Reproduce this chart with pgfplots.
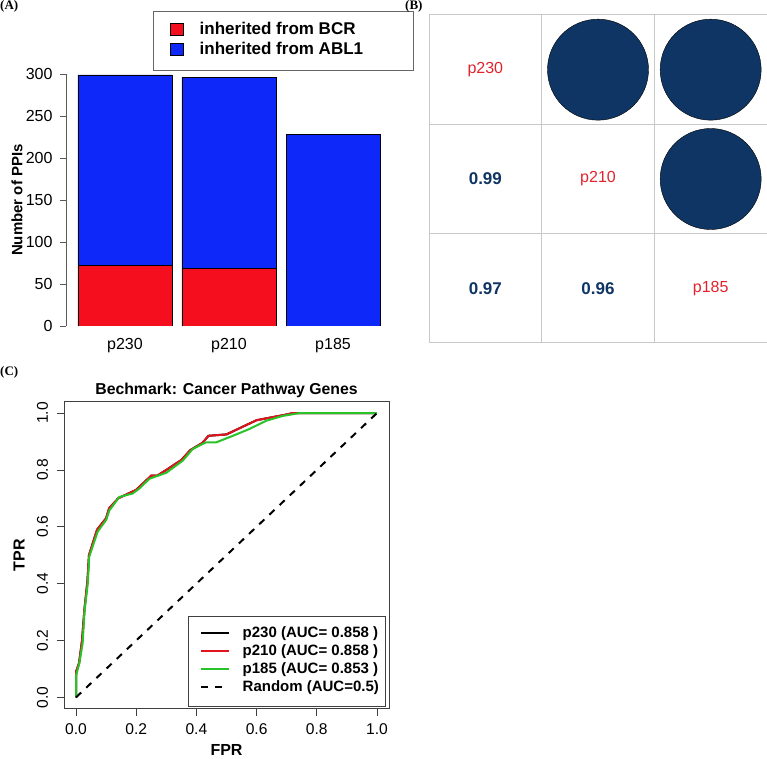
\documentclass[border=0pt]{standalone}
\usepackage{pgfplots}
\pgfplotsset{compat=1.18}
\usepackage{fontspec}
\setmainfont{Liberation Sans}
\newfontfamily\tnr{Liberation Serif}
\newcommand{\fs}[1]{\fontsize{#1}{#1}\selectfont}

\definecolor{barred}{RGB}{245,15,30}
\definecolor{barblue}{RGB}{15,40,250}
\definecolor{navy}{RGB}{15,53,100}
\definecolor{labred}{RGB}{225,35,45}
\definecolor{gridgray}{RGB}{200,200,200}
\definecolor{rocgreen}{RGB}{40,195,40}
\definecolor{rocred}{RGB}{225,20,30}

\pgfplotsset{
  sqlegend/.style={legend image code/.code={
    \draw[##1,draw=black,line width=0.6pt] (0pt,0pt) rectangle (13.3pt,11.5pt);
    \path[draw=none,fill=none] (29.6pt,0pt);}},
  lnlegend/.style={legend image code/.code={
    \path[draw=none,fill=none] (0pt,0pt) (6.7pt,0pt);
    \draw[##1] (6.7pt,5.3pt) -- (34.7pt,5.3pt);
    \path[draw=none,fill=none] (48pt,0pt);}},
}

\begin{document}
\begin{tikzpicture}[x=1pt,y=1pt]
\useasboundingbox (0,0) rectangle (767,758);

% ---- (A) stacked bars
\begin{axis}[
  at={(66pt,432pt)}, anchor=south west, scale only axis,
  width=326pt, height=252pt,
  xmin=0.433, xmax=3.567, ymin=0, ymax=300, enlargelimits=false,
  ybar stacked, bar width=0.904,
  axis lines*=left,
  x axis line style={draw=none},
  y axis line style={-, draw=black!65, line width=0.8pt},
  xtick={1,2,3}, xticklabels={p230,p210,p185},
  xtick style={draw=none},
  ytick={0,50,100,150,200,250,300},
  ytick style={draw=black!65, line width=0.8pt},
  tick align=outside, major tick length=6pt,
  tick label style={font=\fs{16}},
  /pgf/number format/assume math mode=true,
  yticklabel style={anchor=east, inner sep=0pt},
  xticklabel style={anchor=north, inner sep=0pt},
  yticklabel shift=7.3pt, xticklabel shift=5.7pt,
  ylabel={Number of PPIs},
  ylabel style={at={(-0.150,0.5)}, anchor=center, font=\bfseries\fs{15}},
  legend style={at={(0.267,1.25)}, anchor=north west,
    draw=black!60, line width=1pt, inner xsep=16.3pt, inner ysep=11.5pt,
    font=\bfseries\fs{17}, cells={anchor=base west},
    nodes={inner sep=0pt, text height=12pt, text depth=4pt},
    row sep=4pt},
]
\addplot[fill=barred, draw=black, line width=0.6pt, sqlegend] coordinates {(1,72) (2,69) (3,0)};
\addlegendentry{\makebox[197pt][l]{inherited from BCR}}
\addplot[fill=barblue, draw=black, line width=0.6pt, sqlegend] coordinates {(1,227) (2,227) (3,228)};
\addlegendentry{\makebox[197pt][l]{inherited from ABL1}}
\end{axis}

% ---- (B) correlation matrix
\begin{axis}[
  at={(429pt,415pt)}, anchor=south west, scale only axis,
  width=338pt, height=328pt,
  xmin=0.5, xmax=3.5, ymin=0.5, ymax=3.5,
  xtick={1.5,2.5}, ytick={1.5,2.5}, xticklabels={}, yticklabels={},
  tick style={draw=none}, grid=major,
  major grid style={draw=gridgray, line width=1pt},
  axis line style={draw=gridgray, line width=1pt},
  clip=false,
]
\addplot[only marks, mark=*, mark size=50.5pt, mark options={fill=navy, draw=none}]
  coordinates {(2,3) (3,3) (3,2)};
\addplot[only marks, mark=*, mark size=0pt, mark options={draw=none, fill=none},
  nodes near coords, point meta=explicit symbolic,
  nodes near coords style={anchor=center, text=labred, font=\fs{16}}]
  table[meta=t] {
x y t
1 3 p230
2 2 p210
3 1 p185
};
\addplot[only marks, mark=*, mark size=0pt, mark options={draw=none, fill=none},
  nodes near coords, point meta=explicit symbolic,
  nodes near coords style={anchor=center, text=navy, font=\bfseries\fs{17}}]
  table[meta=t] {
x y t
1 2 0.99
1 1 0.97
2 1 0.96
};
\end{axis}

% ---- (C) ROC curves
\begin{axis}[
  at={(64pt,49.3pt)}, anchor=south west, scale only axis,
  width=325pt, height=307pt,
  xmin=-0.04, xmax=1.04, ymin=-0.04, ymax=1.04, enlargelimits=false,
  axis line style={draw=black!75, line width=0.8pt},
  tick style={draw=black!75, line width=0.8pt},
  tick align=outside, major tick length=7pt,
  xtick={0,0.2,0.4,0.6,0.8,1}, ytick={0,0.2,0.4,0.6,0.8,1},
  xtick pos=bottom, ytick pos=left,
  tick label style={font=\fs{15.6}},
  /pgf/number format/.cd, fixed, fixed zerofill, precision=1, assume math mode=true,
  /pgfplots/.cd,
  xticklabel style={anchor=north, inner sep=0pt},
  yticklabel style={rotate=90, anchor=south, inner sep=0pt},
  xticklabel shift=7.6pt, yticklabel shift=8.7pt,
  title={Bechmark: Cancer Pathway Genes},
  title style={at={(0.5,1)}, anchor=center, yshift=5.3pt, inner sep=0pt, font=\bfseries\fs{15.8}},
  xlabel={FPR}, ylabel={TPR},
  xlabel style={at={(0.5,-0.134)}, anchor=center, font=\bfseries\fs{16}},
  ylabel style={at={(-0.138,0.5)}, anchor=center, font=\bfseries\fs{16}},
  legend style={at={(0.991,0.0065)}, anchor=south east,
    draw=black!75, line width=0.8pt, inner xsep=6pt, inner ysep=10.5pt,
    font=\bfseries\fs{15}, cells={anchor=base west},
    nodes={inner sep=0pt, text height=11pt, text depth=4pt},
    row sep=3pt},
]
\addplot[black, line width=2pt, lnlegend] coordinates {
(0,0) (0,0.09) (0.01,0.12) (0.02,0.20) (0.028,0.31) (0.038,0.41) (0.043,0.50)
(0.055,0.54) (0.07,0.59) (0.10,0.63) (0.11,0.665) (0.14,0.70) (0.17,0.715)
(0.20,0.73) (0.23,0.76) (0.25,0.78) (0.27,0.78) (0.30,0.80) (0.35,0.835)
(0.38,0.87) (0.42,0.895) (0.44,0.92) (0.50,0.925) (0.55,0.95) (0.60,0.975)
(0.65,0.985) (0.70,0.995) (0.72,1.0) (1,1)};
\addlegendentry{\makebox[137pt][l]{p230 (AUC= 0.858 )}}
\addplot[rocred, line width=2pt, lnlegend] coordinates {
(0,0) (0,0.09) (0.01,0.12) (0.02,0.20) (0.028,0.31) (0.038,0.41) (0.043,0.50)
(0.055,0.54) (0.07,0.59) (0.10,0.63) (0.11,0.665) (0.14,0.70) (0.17,0.715)
(0.20,0.73) (0.23,0.76) (0.25,0.78) (0.27,0.78) (0.30,0.80) (0.35,0.835)
(0.38,0.87) (0.42,0.895) (0.44,0.92) (0.50,0.925) (0.55,0.95) (0.60,0.975)
(0.65,0.985) (0.70,0.995) (0.72,1.0) (1,1)};
\addlegendentry{\makebox[137pt][l]{p210 (AUC= 0.858 )}}
\addplot[rocgreen, line width=2pt, lnlegend] coordinates {
(0,0) (0,0.076) (0.011,0.12) (0.022,0.19) (0.028,0.30) (0.039,0.40) (0.044,0.495)
(0.055,0.53) (0.072,0.583) (0.10,0.624) (0.111,0.658) (0.144,0.705) (0.188,0.717)
(0.21,0.734) (0.244,0.769) (0.30,0.79) (0.355,0.833) (0.388,0.874) (0.432,0.897)
(0.466,0.897) (0.521,0.92) (0.576,0.944) (0.632,0.973) (0.687,0.99) (0.743,1.0) (1,1)};
\addlegendentry{\makebox[137pt][l]{p185 (AUC= 0.853 )}}
\addplot[black, line width=2pt, dash pattern=on 7pt off 7pt, lnlegend] coordinates {(0,0) (1,1)};
\addlegendentry{\makebox[137pt][l]{Random (AUC=0.5)}}
\end{axis}

\node[anchor=base west, inner sep=0pt, font=\tnr\bfseries\fs{13}] at (0,748.5) {(A)};
\node[anchor=base west, inner sep=0pt, font=\tnr\bfseries\fs{13}] at (405,748.5) {(B)};
\node[anchor=base west, inner sep=0pt, font=\tnr\bfseries\fs{13}] at (0,382) {(C)};
\end{tikzpicture}
\end{document}
